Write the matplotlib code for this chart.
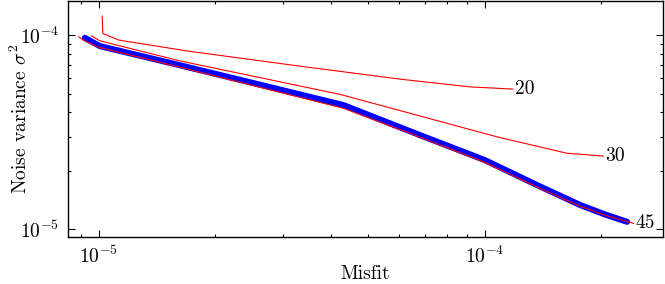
import matplotlib
matplotlib.use("Agg")
import matplotlib.pyplot as plt

plt.rcParams.update({
    "font.family": "serif",
    "font.serif": ["cmr10"],
    "mathtext.fontset": "cm",
    "axes.formatter.use_mathtext": True,
    "font.size": 14,
})

# curve "20"
misfit_20 = [1.020e-5, 1.024e-5, 1.129e-5, 1.72e-5, 3.32e-5, 6.04e-5, 9.17e-5, 1.184e-4]
noise_20 = [1.253e-4, 1.020e-4, 9.42e-5, 8.25e-5, 6.92e-5, 5.93e-5, 5.41e-5, 5.27e-5]

# curve "30"
misfit_30 = [9.57e-6, 1.006e-5, 1.62e-5, 4.22e-5, 1.076e-4, 1.634e-4, 2.03e-4]
noise_30 = [9.92e-5, 9.35e-5, 7.37e-5, 4.95e-5, 2.99e-5, 2.46e-5, 2.38e-5]

# curve "45"
misfit_45 = [8.87e-6, 9.20e-6, 1.006e-5, 1.62e-5, 4.30e-5, 6.80e-5, 1.0e-4, 1.39e-4, 1.77e-4, 2.05e-4, 2.43e-4]
noise_45 = [9.80e-5, 9.31e-5, 8.62e-5, 6.84e-5, 4.20e-5, 2.98e-5, 2.21e-5, 1.62e-5, 1.31e-5, 1.18e-5, 1.07e-5]

# thick blue path
misfit_opt = [9.20e-6, 1.006e-5, 1.62e-5, 2.46e-5, 4.30e-5, 6.80e-5, 1.0e-4, 1.39e-4, 1.77e-4, 2.05e-4, 2.34e-4]
noise_opt = [9.69e-5, 8.78e-5, 7.00e-5, 5.72e-5, 4.36e-5, 3.05e-5, 2.27e-5, 1.66e-5, 1.33e-5, 1.19e-5, 1.09e-5]

curves = [("20", misfit_20, noise_20), ("30", misfit_30, noise_30), ("45", misfit_45, noise_45)]

fig = plt.figure(figsize=(6.65, 2.84), dpi=100)
ax = fig.add_axes([0.102, 0.1655, 0.895, 0.831])

ax.plot(misfit_opt, noise_opt, color="#0000ff", linewidth=4.4, solid_capstyle="round", zorder=2)
for label, xs, ys in curves:
    ax.plot(xs, ys, color="#ff0000", linewidth=0.8, zorder=3)
    ax.annotate(label, (xs[-1], ys[-1]), xytext=(1.5, 0), textcoords="offset points",
                ha="left", va="center")

ax.set_xscale("log")
ax.set_yscale("log")
ax.set_xlim(8.31e-6, 2.90e-4)
ax.set_ylim(9.1e-6, 1.5e-4)
ax.set_xlabel("Misfit", labelpad=-1)
ax.set_ylabel(r"Noise variance $\sigma^2$")
ax.yaxis.set_label_coords(-0.062, 0.5)

ax.tick_params(which="both", direction="in", top=True, right=True, width=0.8)
ax.tick_params(which="major", length=5, pad=6)
ax.tick_params(which="minor", length=2.5)
for s in ax.spines.values():
    s.set_linewidth(1.0)

fig.savefig("out.png", dpi=100)
